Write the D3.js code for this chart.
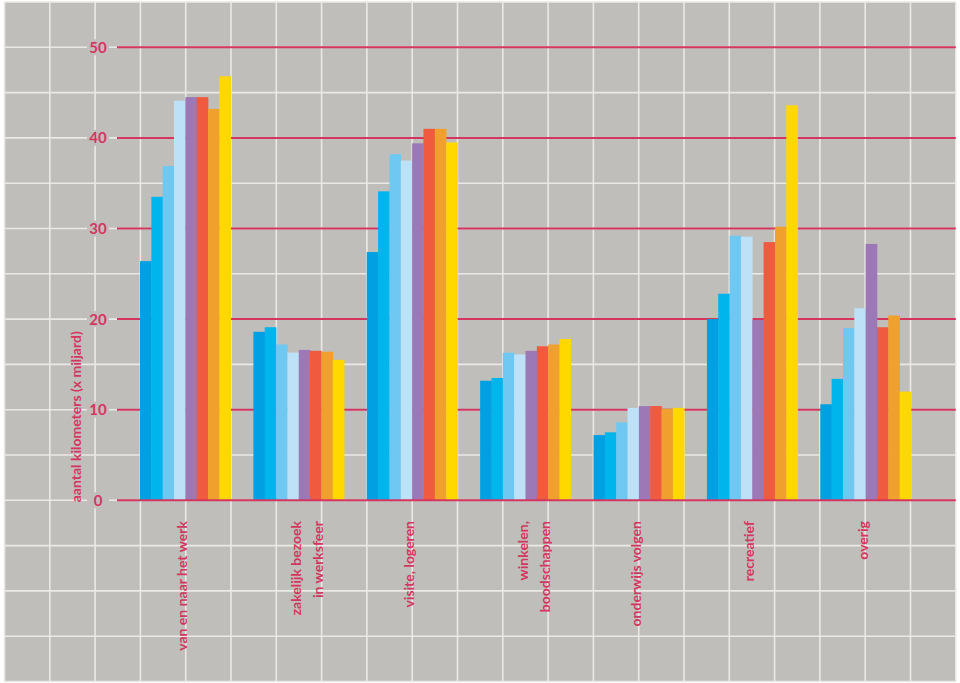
<!DOCTYPE html>
<html>
<head>
<meta charset="utf-8">
<script src="https://cdn.jsdelivr.net/npm/d3@7"></script>
<style>
  html, body { margin: 0; padding: 0; background: #ffffff; }
  svg { display: block; }
  text { font-family: Lato, "Noto Sans", sans-serif; }
</style>
</head>
<body>
<svg id="chart" width="960" height="683"></svg>
<script>
// ---- data ----
const categories = [
  ["van en naar het werk"],
  ["zakelijk bezoek", "in werksfeer"],
  ["visite, logeren"],
  ["winkelen,", "boodschappen"],
  ["onderwijs volgen"],
  ["recreatief"],
  ["overig"]
];
const series = ["s1", "s2", "s3", "s4", "s5", "s6", "s7", "s8"];
const seriesColors = ["#00a0e3", "#00b4ec", "#6ec8f1", "#bde2f7", "#9c78b6", "#f05a3e", "#f0a02c", "#ffd800"];
const values = [
  [26.4, 33.5, 36.9, 44.1, 44.5, 44.5, 43.2, 46.8],
  [18.6, 19.1, 17.2, 16.3, 16.6, 16.5, 16.4, 15.5],
  [27.4, 34.1, 38.2, 37.5, 39.4, 41.0, 41.0, 39.5],
  [13.2, 13.5, 16.3, 16.1, 16.5, 17.0, 17.2, 17.8],
  [7.2, 7.5, 8.6, 10.2, 10.4, 10.4, 10.1, 10.2],
  [20.0, 22.8, 29.2, 29.1, 19.9, 28.5, 30.2, 43.6],
  [10.6, 13.4, 19.0, 21.2, 28.3, 19.1, 20.4, 12.0]
];
const yTicks = [0, 10, 20, 30, 40, 50];
const yTitle = "aantal kilometers (x miljard)";

// ---- layout ----
const svg = d3.select("#chart");
const RED = "#d4365f";
const BG = "#c0bebb";
const GRIDC = "#ebe9e5";
const gridStep = 45.3, gx0 = 4.5, gy0 = 2;

// background + white grid
svg.append("rect").attr("x", gx0).attr("y", gy0)
  .attr("width", 21 * gridStep).attr("height", 15 * gridStep).attr("fill", BG);
const g = svg.append("g");
d3.range(0, 22).forEach(k => {
  g.append("line").attr("x1", gx0 + k * gridStep).attr("x2", gx0 + k * gridStep)
    .attr("y1", gy0).attr("y2", gy0 + 15 * gridStep)
    .attr("stroke", GRIDC).attr("stroke-width", 1.6);
});
d3.range(0, 16).forEach(k => {
  g.append("line").attr("y1", gy0 + k * gridStep).attr("y2", gy0 + k * gridStep)
    .attr("x1", gx0).attr("x2", gx0 + 21 * gridStep)
    .attr("stroke", GRIDC).attr("stroke-width", 1.6);
});

const y = d3.scaleLinear().domain([0, 50]).range([gy0 + 11 * gridStep, gy0 + gridStep]);
const x0 = d3.scaleBand().domain(d3.range(categories.length))
  .range([128.67, 922.33]).paddingInner(0.2).paddingOuter(0.1);
const x1 = d3.scaleBand().domain(series).range([0, x0.bandwidth()]).padding(0);
const color = d3.scaleOrdinal().domain(series).range(seriesColors);

// red gridlines (non-zero) behind bars
const axisG = svg.append("g");
axisG.selectAll("line.red").data(yTicks.filter(t => t !== 0)).join("line")
  .attr("class", "red")
  .attr("x1", 117).attr("x2", gx0 + 21 * gridStep)
  .attr("y1", d => y(d)).attr("y2", d => y(d))
  .attr("stroke", RED).attr("stroke-width", 2);

// tick labels
const lab = svg.append("g");
yTicks.forEach(t => {
  lab.append("rect").attr("x", 87).attr("y", y(t) - 8).attr("width", 22).attr("height", 16).attr("fill", BG);
});
lab.selectAll("text").data(yTicks).join("text")
  .attr("x", 98).attr("y", d => y(d)).attr("dy", "0.36em")
  .attr("text-anchor", "middle").attr("fill", RED)
  .attr("font-size", 15).attr("font-weight", 700)
  .text(d => d);

// bars
const bars = svg.append("g");
bars.selectAll("g").data(values).join("g")
  .attr("transform", (d, i) => `translate(${x0(i)},0)`)
  .selectAll("rect").data(d => d.map((v, j) => ({ key: series[j], v })))
  .join("rect")
  .attr("x", d => x1(d.key)).attr("width", x1.bandwidth() + 0.3)
  .attr("y", d => y(d.v)).attr("height", d => y(0) - y(d.v))
  .attr("fill", d => color(d.key));

// zero line on top
svg.append("line").attr("x1", 117).attr("x2", gx0 + 21 * gridStep)
  .attr("y1", y(0)).attr("y2", y(0)).attr("stroke", RED).attr("stroke-width", 2);

// y title
svg.append("text")
  .attr("transform", `translate(80.5,${y(0) + 2}) rotate(-90)`)
  .attr("text-anchor", "start").attr("fill", RED)
  .attr("font-size", 14).attr("font-weight", 700)
  .text(yTitle);

// category labels
const catG = svg.append("g");
categories.forEach((lines, i) => {
  const cx = x0(i) + x0.bandwidth() / 2;
  lines.forEach((ln, k) => {
    catG.append("text")
      .attr("transform", `translate(${cx + 2 + k * 22.5},${521}) rotate(-90)`)
      .attr("text-anchor", "end").attr("fill", RED)
      .attr("font-size", 14).attr("font-weight", 700)
      .text(ln);
  });
});
</script>
</body>
</html>
